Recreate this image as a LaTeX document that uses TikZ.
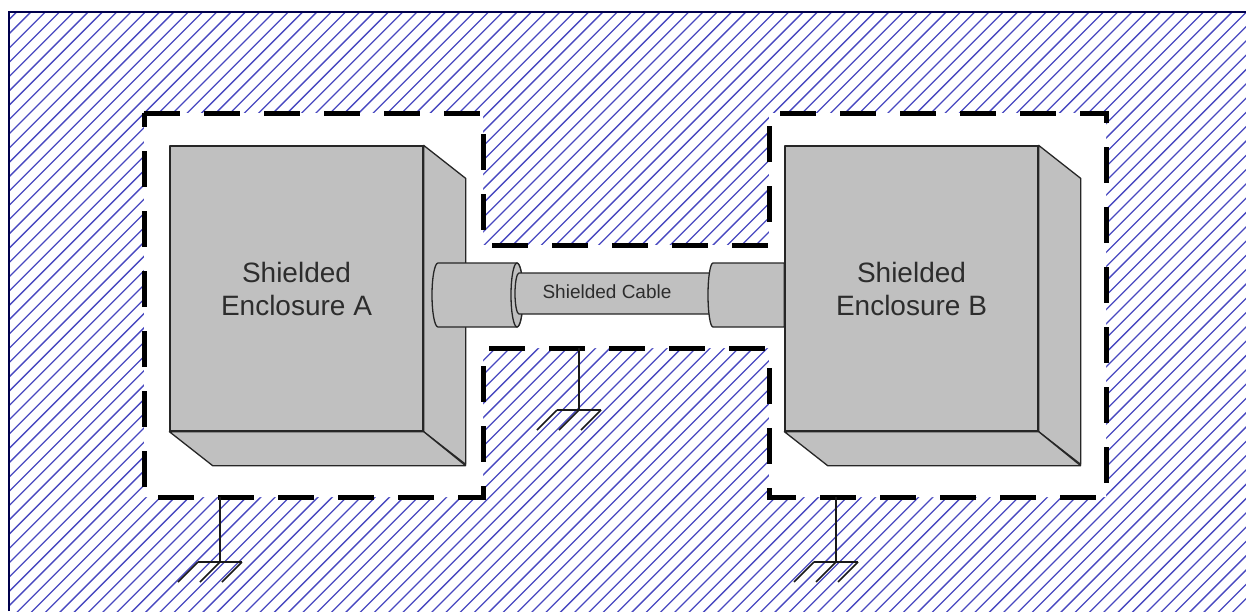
\documentclass[tikz,border=0pt]{standalone}
\usepackage{fontspec}
\setmainfont{Liberation Sans}
\definecolor{boxgray}{RGB}{192,192,192}
\definecolor{hatchblue}{RGB}{72,72,192}
\definecolor{txtgray}{RGB}{45,45,45}

\begin{document}
\begin{tikzpicture}[x=1pt, y=-1pt,
  box/.style={draw=black!85, fill=boxgray, line width=1.3pt, line join=round},
  front/.style={box, minimum width=253pt, minimum height=285pt, inner sep=0pt,
    text=txtgray, align=center, font=\fontsize{28}{33}\selectfont},
  shield/.style={draw=black, line width=5pt, dash pattern=on 36pt off 24pt},
  ground/.style={draw=black!90, line width=1.6pt}]
\useasboundingbox (0,0) rectangle (1246,611);

% hatched surroundings
\begin{scope}
\clip (9,12) rectangle (1246,611);
\foreach \c in {0,14.3,...,1870}
  \draw[hatchblue, line width=1.3pt] (\c,0) -- ++(-700,700);
\end{scope}
\draw[black!70!blue, line width=1.2pt] (9,611) -- (9,12) -- (1246,12);

% shielded volume
\path[fill=white] (144,113) -- (483,113) -- (483,245) -- (769,245) -- (769,113)
  -- (1106,113) -- (1106,497) -- (769,497) -- (769,348) -- (483,348)
  -- (483,497) -- (144,497) -- cycle;
\draw[shield] (144,113) -- (483,113) -- (483,245) -- (769,245) -- (769,113)
  -- (1106,113) -- (1106,497) -- (769,497) -- (769,348) -- (483,348)
  -- (483,497) -- (144,497) -- cycle;

% enclosures
\node[front] (encA) at (296.5,288.5) {Shielded\\Enclosure A};
\node[front] (encB) at (911.5,288.5) {Shielded\\Enclosure B};
\foreach \e in {encA, encB} {
  \draw[box] (\e.north east) -- ++(42,33) -- ++(0,286) -- (\e.south east) -- cycle;
  \draw[box] (\e.south west) -- (\e.south east) -- ++(42,34) -- ++(-253,0) -- cycle;
}

% cable and connectors
\draw[box] (438,263) -- (517,263) arc[start angle=90, end angle=-90, x radius=6pt, y radius=32pt]
  -- (438,327) arc[start angle=270, end angle=90, x radius=6pt, y radius=32pt] -- cycle;
\draw[box] (517,295) ellipse[x radius=6pt, y radius=32pt];
\draw[box] (519,273) -- (720,273) -- (720,314) -- (519,314)
  arc[start angle=270, end angle=90, x radius=4pt, y radius=20.5pt] -- cycle;
\draw[box] (713,263) -- (encB.west |- 0,263) -- (encB.west |- 0,327) -- (713,327)
  arc[start angle=270, end angle=90, x radius=5pt, y radius=32pt] -- cycle;
\node[text=txtgray, font=\fontsize{19}{22}\selectfont] (cable) at (607,292) {Shielded Cable};

% grounds
\coordinate (shA) at (220,497);
\coordinate (gA) at (220,562);
\coordinate (shM) at (579,348);
\coordinate (gM) at (579,410);
\coordinate (shB) at (836,497);
\coordinate (gB) at (836,562);
\foreach \t/\b in {shA/gA, shM/gM, shB/gB} {
  \draw[ground] (\t) -- (\b);
  \draw[ground] ([xshift=-22pt]\b) -- ([xshift=22pt]\b);
  \foreach \dx in {-22,0,22}
    \draw[ground] ([xshift=\dx pt]\b) -- ++(-20,20);
}
\end{tikzpicture}
\end{document}
